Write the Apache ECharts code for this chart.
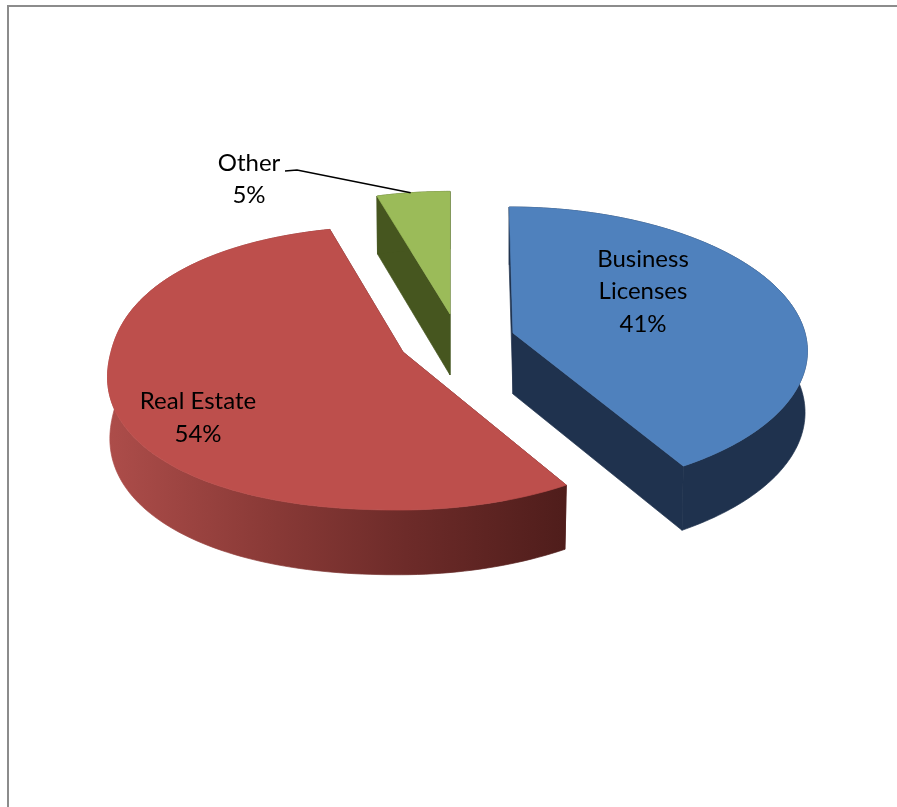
<!DOCTYPE html>
<html>
<head>
<meta charset="utf-8">
<style>html,body{margin:0;padding:0;background:#fff}#c{width:897px;height:807px}</style>
<script src="https://cdn.jsdelivr.net/npm/echarts@6/dist/echarts.min.js"></script>
</head>
<body>
<div id="c"></div>
<script>
const categories = ['Business\nLicenses', 'Real Estate', 'Other'];
const values = [41.4, 54, 4.6];
const topColors = ['#4f81bd', '#bd4f4c', '#9bbb59'];
const faceColors = ['#1f324e', '#5c2321', '#46561f'];
const apexes = [[513, 333], [403, 352], [450, 314]];
const labelCenters = [[643, 291.5], [198, 418], [249, 179.5]];
const rimExponents = [2, 2.2, 2];
const radiusScales = [1, 1, 0.97];

const RX = 292, RY = 140.2, PERSP = 0.1127, DEPTH = 61, VANISH_X = 450, CONVERGE = 0.6, BOTTOM_SCALE = 0.992;
const FONT = 'Lato, "Open Sans", sans-serif';
const total = values.reduce((a, b) => a + b, 0);
const starts = values.map((_, i) => values.slice(0, i).reduce((a, b) => a + b, 0));

function project(i, theta, r, lower) {
  let s = Math.sin(theta), c0 = Math.cos(theta);
  if (s < 0) {
    const n = rimExponents[i];
    const k = 1 / Math.pow(Math.pow(Math.abs(s), n) + Math.pow(Math.abs(c0), n), 1 / n);
    s *= k; c0 *= k;
  }
  const u = s * r * radiusScales[i], v = c0 * r * radiusScales[i];
  const w = 1 + PERSP * v;
  const c = apexes[i];
  const drift = (c[0] - VANISH_X) * (1 / w - 1) * CONVERGE;
  const dx = RX * u / w;
  return [
    c[0] + drift + dx * (lower ? BOTTOM_SCALE : 1),
    c[1] - RY * v / w + (lower ? DEPTH / Math.sqrt(w) : 0)
  ];
}
function arc(i, a0, a1, lower) {
  const pts = [], n = 140;
  for (let k = 0; k <= n; k++) pts.push(project(i, a0 + (a1 - a0) * k / n, 1, lower));
  return pts;
}
const poly = (points, fill, z) => ({
  type: 'polygon', z2: z,
  shape: { points },
  style: { fill, stroke: fill, lineWidth: 0.7 },
  silent: true
});

function renderItem(params, api) {
  const i = params.dataIndex;
  const val = api.value(1), start = api.value(2);
  const a0 = start / total * Math.PI * 2, a1 = (start + val) / total * Math.PI * 2;
  const apexTop = project(i, 0, 0, false), apexLow = project(i, 0, 0, true);
  const top = arc(i, a0, a1, false), low = arc(i, a0, a1, true);
  let wallFill = faceColors[i];
  if (i === 1) {
    wallFill = {
      type: 'linear', x: 0, y: 0, x2: 1, y2: 0,
      colorStops: [
        { offset: 0, color: '#ad4d4a' },
        { offset: 0.35, color: '#8a3a37' },
        { offset: 0.65, color: '#6d2b29' },
        { offset: 1, color: '#4f1d1b' }
      ]
    };
  }
  const children = [
    poly([apexTop, top[0], low[0], apexLow], faceColors[i], 1),
    poly([apexTop, top[top.length - 1], low[low.length - 1], apexLow], faceColors[i], 1),
    poly(top.concat(low.slice().reverse()), wallFill, 2),
    poly([apexTop].concat(top), topColors[i], 3)
  ];
  const lc = labelCenters[i];
  const text = categories[i] + '\n' + Math.round(val / total * 100) + '%';
  children.push({
    type: 'text', z2: 6, silent: true,
    style: {
      text, x: lc[0], y: lc[1], align: 'center', verticalAlign: 'middle',
      font: '24px ' + FONT, lineHeight: 32.5, fill: '#000'
    }
  });
  if (i === 2) {
    const mid = project(i, (a0 + a1) / 2 - 0.01, 1, false);
    children.push({
      type: 'polyline', z2: 5, silent: true,
      shape: { points: [[lc[0] + 36, lc[1] - 8.5], [lc[0] + 48, lc[1] - 9.5], mid] },
      style: { stroke: '#000', lineWidth: 1.6, fill: null }
    });
  }
  return { type: 'group', children };
}

const chart = echarts.init(document.getElementById('c'), null, { renderer: 'canvas' });
chart.setOption({
  animation: false,
  backgroundColor: '#fff',
  graphic: [
    { type: 'line', silent: true, shape: { x1: 7, y1: 6, x2: 897, y2: 6 }, style: { stroke: '#8c8c8c', lineWidth: 2 } },
    { type: 'line', silent: true, shape: { x1: 8, y1: 5, x2: 8, y2: 807 }, style: { stroke: '#8c8c8c', lineWidth: 2 } }
  ],
  series: [{
    type: 'custom',
    coordinateSystem: 'none',
    renderItem,
    data: categories.map((c, i) => [c, values[i], starts[i]])
  }]
});
</script>
</body>
</html>
